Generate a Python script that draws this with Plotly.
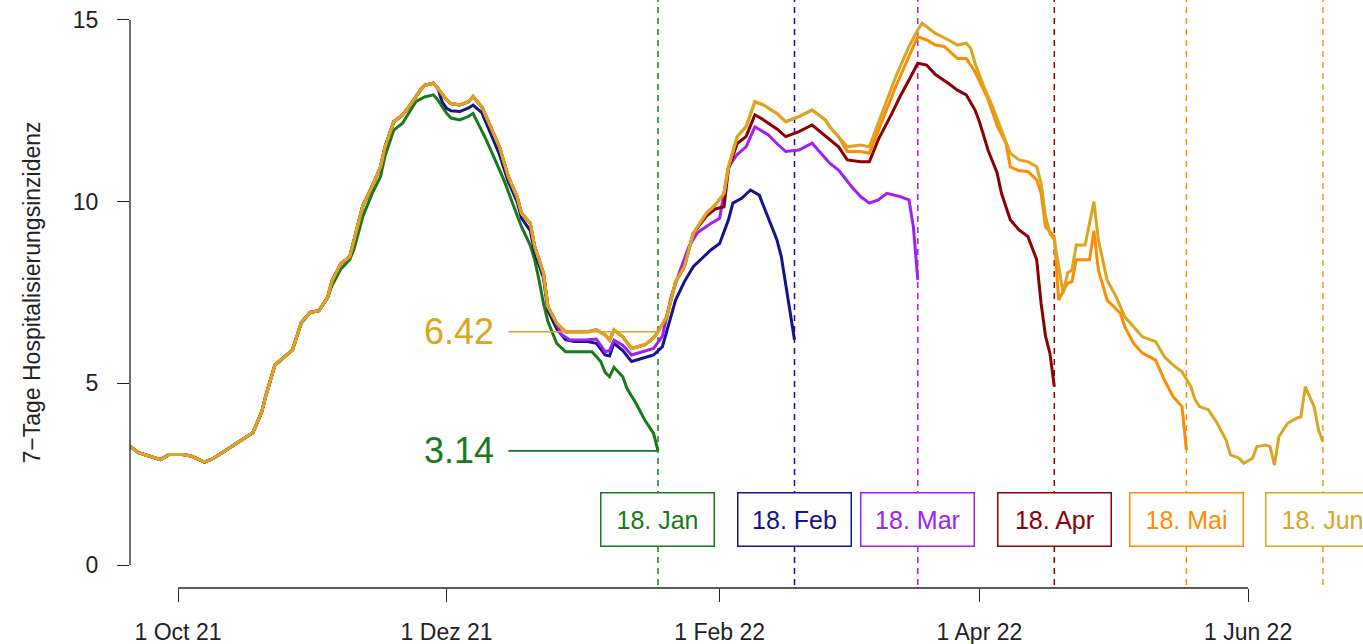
import plotly.graph_objects as go

FONT = "Liberation Sans, Arial, Helvetica, sans-serif"

# ---------------- data ----------------
# latest nowcast (18. Jun) - full period
gold_dates = [
    "2021-09-20", "2021-09-22", "2021-09-25", "2021-09-27", "2021-09-29", "2021-10-02",
    "2021-10-04", "2021-10-07", "2021-10-09", "2021-10-11", "2021-10-13", "2021-10-15",
    "2021-10-18", "2021-10-20", "2021-10-21", "2021-10-23", "2021-10-25", "2021-10-27",
    "2021-10-29", "2021-10-31", "2021-11-02", "2021-11-04", "2021-11-05", "2021-11-07",
    "2021-11-09", "2021-11-10", "2021-11-12", "2021-11-14", "2021-11-16", "2021-11-17",
    "2021-11-19", "2021-11-21", "2021-11-23", "2021-11-25", "2021-11-26", "2021-11-28",
    "2021-11-29", "2021-12-01", "2021-12-02", "2021-12-04", "2021-12-06", "2021-12-07",
    "2021-12-09", "2021-12-11", "2021-12-13", "2021-12-15", "2021-12-17", "2021-12-18",
    "2021-12-20", "2021-12-21", "2021-12-23", "2021-12-24", "2021-12-26", "2021-12-28",
    "2022-01-02", "2022-01-04", "2022-01-06", "2022-01-07", "2022-01-08", "2022-01-10",
    "2022-01-12", "2022-01-15", "2022-01-17", "2022-01-18", "2022-01-20", "2022-01-22",
    "2022-01-24", "2022-01-26", "2022-01-29", "2022-01-31", "2022-02-02", "2022-02-03",
    "2022-02-05", "2022-02-07", "2022-02-09", "2022-02-11", "2022-02-14", "2022-02-16",
    "2022-02-19", "2022-02-22", "2022-02-25", "2022-02-26", "2022-02-28", "2022-03-02",
    "2022-03-05", "2022-03-07", "2022-03-09", "2022-03-11", "2022-03-13", "2022-03-16",
    "2022-03-18", "2022-03-19", "2022-03-22", "2022-03-25", "2022-03-27", "2022-03-29",
    "2022-03-30", "2022-03-31", "2022-04-02", "2022-04-04", "2022-04-06", "2022-04-08",
    "2022-04-10", "2022-04-12", "2022-04-14", "2022-04-15", "2022-04-16", "2022-04-17",
    "2022-04-18", "2022-04-19", "2022-04-20", "2022-04-21", "2022-04-22", "2022-04-23",
    "2022-04-25", "2022-04-27", "2022-04-28", "2022-04-30", "2022-05-02", "2022-05-04",
    "2022-05-06", "2022-05-08", "2022-05-11", "2022-05-13", "2022-05-15", "2022-05-17",
    "2022-05-19", "2022-05-20", "2022-05-21", "2022-05-23", "2022-05-25", "2022-05-27",
    "2022-05-28", "2022-05-30", "2022-05-31", "2022-06-02", "2022-06-03", "2022-06-05",
    "2022-06-06", "2022-06-07", "2022-06-08", "2022-06-10", "2022-06-12", "2022-06-13",
    "2022-06-14", "2022-06-15", "2022-06-16", "2022-06-17", "2022-06-18",
]
gold_vals = [
    3.28, 3.09, 2.98, 2.90, 3.04, 3.04,
    3.00, 2.83, 2.93, 3.09, 3.25, 3.41,
    3.64, 4.21, 4.68, 5.50, 5.70, 5.92,
    6.67, 6.95, 7.00, 7.37, 7.83, 8.30,
    8.48, 8.95, 9.90, 10.40, 10.96, 11.50,
    12.20, 12.39, 12.70, 13.07, 13.20, 13.26,
    13.12, 12.80, 12.70, 12.66, 12.75, 12.89,
    12.61, 12.06, 11.51, 10.69, 10.14, 9.68,
    9.40, 8.76, 8.03, 7.11, 6.65, 6.42,
    6.42, 6.47, 6.33, 6.19, 6.47, 6.28,
    5.96, 6.06, 6.25, 6.42, 6.83, 7.80,
    8.21, 9.13, 9.68, 9.91, 10.23, 10.96,
    11.79, 12.06, 12.75, 12.66, 12.43, 12.20,
    12.34, 12.52, 12.25, 12.06, 11.79, 11.51,
    11.56, 11.51, 12.16, 12.80, 13.44, 14.27,
    14.73, 14.91, 14.63, 14.45, 14.31, 14.36,
    14.22, 13.81, 13.17, 12.61, 11.97, 11.33,
    11.15, 11.10, 10.96, 10.51, 9.60, 9.13,
    8.95, 8.21, 7.48, 8.03, 8.12, 8.81,
    8.81, 10.00, 8.95, 7.84, 7.39, 6.83,
    6.56, 6.28, 6.15, 5.73, 5.50, 5.32,
    4.91, 4.54, 4.36, 4.27, 3.90, 3.44,
    3.03, 2.94, 2.80, 2.94, 3.26, 3.30,
    3.26, 2.75, 3.53, 3.90, 4.04, 4.08,
    4.91, 4.63, 4.36, 3.72, 3.39,
]

# earlier nowcasts: where they separate from the latest curve
green_dates = [
    "2021-11-05", "2021-11-07", "2021-11-09", "2021-11-10", "2021-11-12", "2021-11-14",
    "2021-11-16", "2021-11-17", "2021-11-19", "2021-11-21", "2021-11-24", "2021-11-26",
    "2021-11-28", "2021-11-29", "2021-12-01", "2021-12-02", "2021-12-04", "2021-12-06",
    "2021-12-07", "2021-12-08", "2021-12-10", "2021-12-12", "2021-12-14", "2021-12-16",
    "2021-12-18", "2021-12-20", "2021-12-21", "2021-12-22", "2021-12-23", "2021-12-24",
    "2021-12-25", "2021-12-26", "2021-12-28", "2022-01-03", "2022-01-05", "2022-01-06",
    "2022-01-07", "2022-01-08", "2022-01-10", "2022-01-11", "2022-01-13", "2022-01-15",
    "2022-01-17", "2022-01-18",
]
green_vals = [
    7.70, 8.15, 8.40, 8.70, 9.60, 10.20,
    10.69, 11.25, 11.97, 12.16, 12.75, 12.88,
    12.94, 12.80, 12.43, 12.30, 12.25, 12.35,
    12.43, 12.20, 11.70, 11.15, 10.60, 9.95,
    9.31, 8.80, 8.40, 7.84, 7.20, 6.70,
    6.38, 6.10, 5.87, 5.87, 5.60, 5.30,
    5.18, 5.44, 5.18, 4.85, 4.45, 3.99,
    3.62, 3.14,
]

blue_dates = [
    "2021-11-30", "2021-12-01", "2021-12-02", "2021-12-04", "2021-12-06", "2021-12-07",
    "2021-12-09", "2021-12-11", "2021-12-13", "2021-12-15", "2021-12-17", "2021-12-18",
    "2021-12-20", "2021-12-21", "2021-12-23", "2021-12-24", "2021-12-26", "2021-12-28",
    "2021-12-30", "2022-01-02", "2022-01-04", "2022-01-06", "2022-01-07", "2022-01-08",
    "2022-01-10", "2022-01-12", "2022-01-15", "2022-01-17", "2022-01-19", "2022-01-22",
    "2022-01-24", "2022-01-26", "2022-01-30", "2022-02-01", "2022-02-03", "2022-02-04",
    "2022-02-06", "2022-02-08", "2022-02-10", "2022-02-12", "2022-02-14", "2022-02-15",
    "2022-02-16", "2022-02-17", "2022-02-18",
]
blue_vals = [
    12.75, 12.57, 12.50, 12.48, 12.58, 12.66,
    12.45, 11.90, 11.30, 10.55, 10.00, 9.55,
    9.20, 8.60, 7.90, 7.00, 6.50, 6.20,
    6.15, 6.15, 6.10, 5.78, 5.75, 6.10,
    5.90, 5.60, 5.70, 5.78, 6.01, 7.29,
    7.80, 8.21, 8.67, 8.85, 9.50, 9.96,
    10.09, 10.32, 10.18, 9.59, 8.95, 8.49,
    7.75, 6.93, 6.20,
]

purple_dates = [
    "2021-12-27", "2021-12-29", "2022-01-02", "2022-01-04", "2022-01-06", "2022-01-07",
    "2022-01-08", "2022-01-10", "2022-01-12", "2022-01-15", "2022-01-17", "2022-01-19",
    "2022-01-21", "2022-01-23", "2022-01-25", "2022-01-27", "2022-01-30", "2022-02-01",
    "2022-02-03", "2022-02-05", "2022-02-07", "2022-02-09", "2022-02-12", "2022-02-14",
    "2022-02-16", "2022-02-19", "2022-02-22", "2022-02-24", "2022-02-26", "2022-02-28",
    "2022-03-03", "2022-03-05", "2022-03-07", "2022-03-09", "2022-03-11", "2022-03-14",
    "2022-03-16", "2022-03-17", "2022-03-18",
]
purple_vals = [
    6.35, 6.19, 6.20, 6.22, 5.87, 5.90,
    6.19, 6.05, 5.78, 5.90, 5.96, 6.30,
    7.39, 8.10, 8.76, 9.15, 9.40, 9.54,
    10.96, 11.30, 11.51, 12.06, 11.84, 11.60,
    11.38, 11.42, 11.61, 11.33, 11.06, 10.87,
    10.41, 10.14, 9.96, 10.05, 10.23, 10.14,
    10.05, 9.30, 7.85,
]

darkred_dates = [
    "2022-01-29", "2022-01-31", "2022-02-02", "2022-02-03", "2022-02-05", "2022-02-07",
    "2022-02-09", "2022-02-11", "2022-02-14", "2022-02-16", "2022-02-19", "2022-02-22",
    "2022-02-25", "2022-02-28", "2022-03-02", "2022-03-05", "2022-03-07", "2022-03-09",
    "2022-03-12", "2022-03-14", "2022-03-16", "2022-03-18", "2022-03-20", "2022-03-22",
    "2022-03-25", "2022-03-27", "2022-03-29", "2022-03-31", "2022-04-01", "2022-04-03",
    "2022-04-05", "2022-04-06", "2022-04-08", "2022-04-10", "2022-04-12", "2022-04-14",
    "2022-04-15", "2022-04-16", "2022-04-17", "2022-04-18",
]
darkred_vals = [
    9.60, 9.80, 9.86, 10.90, 11.60, 11.79,
    12.39, 12.25, 12.00, 11.79, 11.93, 12.11,
    11.80, 11.51, 11.15, 11.10, 11.10, 11.70,
    12.40, 12.90, 13.35, 13.81, 13.76, 13.50,
    13.25, 13.07, 12.94, 12.52, 12.20, 11.40,
    10.80, 10.23, 9.50, 9.22, 9.04, 8.40,
    7.20, 6.30, 5.83, 4.91,
]

orange_dates = [
    "2022-03-02", "2022-03-05", "2022-03-07", "2022-03-09", "2022-03-11", "2022-03-13",
    "2022-03-16", "2022-03-18", "2022-03-20", "2022-03-22", "2022-03-24", "2022-03-27",
    "2022-03-29", "2022-03-31", "2022-04-03", "2022-04-05", "2022-04-07", "2022-04-08",
    "2022-04-10", "2022-04-12", "2022-04-14", "2022-04-15", "2022-04-16", "2022-04-18",
    "2022-04-19", "2022-04-21", "2022-04-22", "2022-04-23", "2022-04-26", "2022-04-27",
    "2022-04-28", "2022-04-30", "2022-05-03", "2022-05-04", "2022-05-06", "2022-05-08",
    "2022-05-11", "2022-05-13", "2022-05-15", "2022-05-17", "2022-05-18",
]
orange_vals = [
    11.38, 11.38, 11.33, 11.95, 12.55, 13.17,
    14.00, 14.54, 14.45, 14.31, 14.27, 13.94,
    13.94, 13.58, 12.80, 12.10, 11.61, 10.96,
    10.85, 10.83, 10.60, 10.23, 9.31, 9.04,
    7.29, 7.75, 7.80, 8.40, 8.40, 9.20,
    8.12, 7.29, 6.93, 6.56, 6.10, 5.83,
    5.64, 5.09, 4.63, 4.36, 3.17,
]

series_names = ["18. Jan", "18. Feb", "18. Mar", "18. Apr", "18. Mai", "18. Jun"]
cutoff_dates = ["2022-01-18", "2022-02-18", "2022-03-18", "2022-04-18", "2022-05-18", "2022-06-18"]
series_colors = ["#187a18", "#14148c", "#a020f0", "#8b0000", "#ff8c00", "#daa520"]

# values of the 18. Jun and 18. Jan nowcasts on 18. Jan
label_values = [6.42, 3.14]
label_colors = ["#daa520", "#187a18"]
label_line_start = "2021-12-15"
label_line_end = "2022-01-18"

x_tick_vals = ["2021-10-01", "2021-12-01", "2022-02-01", "2022-04-01", "2022-06-01"]
x_tick_text = ["1 Oct 21", "1 Dez 21", "1 Feb 22", "1 Apr 22", "1 Jun 22"]
y_tick_vals = [0, 5, 10, 15]
y_title = "7\u2212Tage Hospitalisierungsinzidenz"


def build(tail_dates, tail_vals):
    start = tail_dates[0]
    d = [x for x in gold_dates if x < start] + list(tail_dates)
    v = [y for x, y in zip(gold_dates, gold_vals) if x < start] + list(tail_vals)
    return d, v


series = [
    build(green_dates, green_vals),
    build(blue_dates, blue_vals),
    build(purple_dates, purple_vals),
    build(darkred_dates, darkred_vals),
    build(orange_dates, orange_vals),
    (gold_dates, gold_vals),
]

fig = go.Figure()

for (d, v), name, col in zip(series, series_names, series_colors):
    fig.add_trace(go.Scatter(
        x=d, y=v, mode="lines", name=name,
        line=dict(color=col, width=3), showlegend=False, hoverinfo="skip",
    ))

# label reference lines
for val, col in zip(label_values, label_colors):
    fig.add_trace(go.Scatter(
        x=[label_line_start, label_line_end], y=[val, val], mode="lines",
        line=dict(color=col, width=1.6), showlegend=False, hoverinfo="skip",
    ))

shapes = []
annotations = []

# vertical dashed cutoff lines
for dt, col in zip(cutoff_dates, series_colors):
    shapes.append(dict(
        type="line", xref="x", yref="paper", x0=dt, x1=dt, y0=0.005, y1=1,
        line=dict(color=col, width=1.5, dash="6px,5px"), layer="below",
    ))

# axis lines (R style, detached)
shapes.append(dict(type="line", xref="paper", yref="y", x0=0, x1=0, y0=0, y1=15,
                   line=dict(color="#222", width=1.3)))
shapes.append(dict(type="line", xref="x", yref="paper", x0=x_tick_vals[0], x1=x_tick_vals[-1],
                   y0=0, y1=0, line=dict(color="#222", width=1.3)))

# boxes with cutoff dates
for dt, name, col in zip(cutoff_dates, series_names, series_colors):
    annotations.append(dict(
        x=dt, y=1.24, xref="x", yref="y", text=name, showarrow=False,
        font=dict(family=FONT, size=25, color=col),
        bgcolor="white", bordercolor=col, borderwidth=1.5, borderpad=1,
        width=110, height=50, xanchor="center", yanchor="middle",
    ))

# value labels
for val, col in zip(label_values, label_colors):
    annotations.append(dict(
        x=label_line_start, y=val, xref="x", yref="y", text=f"{val:.2f}",
        showarrow=False, xanchor="right", yanchor="middle", xshift=-12,
        font=dict(family=FONT, size=36, color=col),
    ))

# y-axis title
annotations.append(dict(
    x=0, y=7.5, xref="paper", yref="y", text=y_title, showarrow=False,
    textangle=-90, xanchor="center", yanchor="middle", xshift=-98,
    font=dict(family=FONT, size=23, color="#222"),
))

fig.update_layout(
    width=1363, height=644,
    margin=dict(l=130, r=0, t=0, b=56, pad=0),
    paper_bgcolor="white", plot_bgcolor="white",
    shapes=shapes, annotations=annotations,
    font=dict(family=FONT, size=23, color="#222"),
    xaxis=dict(
        type="date", range=["2021-09-20 02:24", "2022-06-27 02:24"],
        showgrid=False, zeroline=False, showline=False,
        tickmode="array", tickvals=x_tick_vals, ticktext=x_tick_text,
        ticks="outside", ticklen=13, tickwidth=1.3, tickcolor="#222",
        tickfont=dict(family=FONT, size=23, color="#222"),
        ticklabelstandoff=10,
    ),
    yaxis=dict(
        range=[-0.633, 15.55], showgrid=False, zeroline=False, showline=False,
        tickmode="array", tickvals=y_tick_vals,
        ticks="outside", ticklen=12, tickwidth=1.3, tickcolor="#222",
        tickfont=dict(family=FONT, size=23, color="#222"),
        ticklabelstandoff=14,
    ),
)

fig.write_html("out.html", config={"displayModeBar": False},
               post_script="document.body.style.margin='0';")
